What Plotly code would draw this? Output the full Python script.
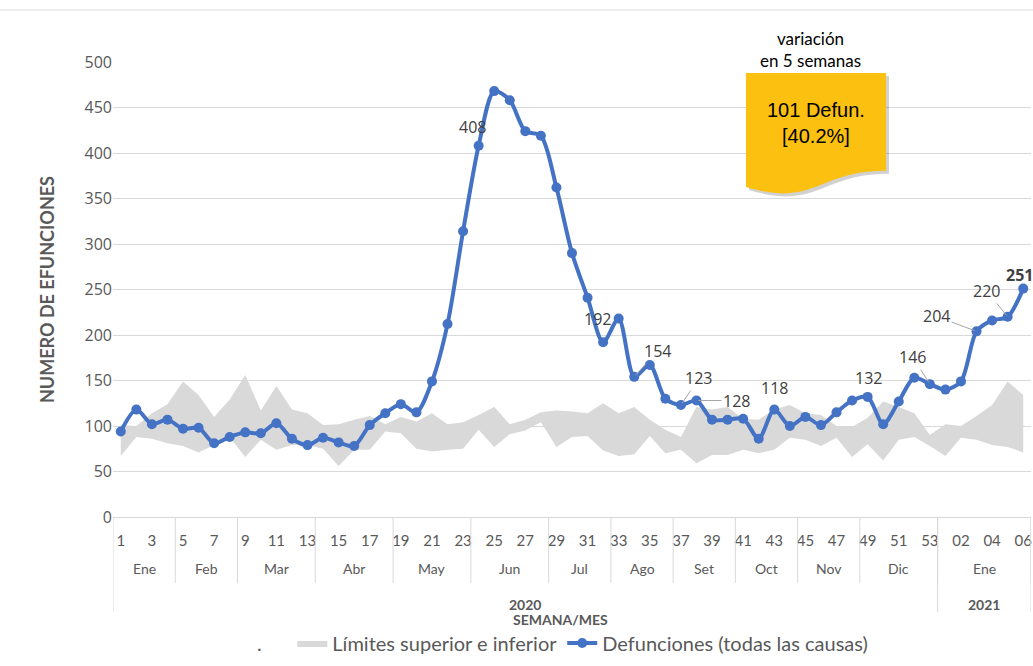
import plotly.graph_objects as go

# semanas 2020 (1..53) y 2021 (01..06)
weeks_2020 = [str(w) for w in range(1, 54)]
weeks_2021 = ["01", "02", "03", "04", "05", "06"]
week_labels = weeks_2020 + weeks_2021

months_2020 = ["Ene", "Feb", "Mar", "Abr", "May", "Jun", "Jul", "Ago", "Set", "Oct", "Nov", "Dic"]
month_weeks_2020 = [4, 4, 5, 5, 5, 5, 4, 4, 4, 4, 4, 5]
months_2021 = ["Ene"]
month_weeks_2021 = [6]
years = ["2020", "2021"]

defunciones = [94, 118, 102, 107, 97, 98, 81, 88, 93, 92,
               103, 86, 79, 87, 82, 78, 101, 114, 124, 115,
               149, 212, 314, 408, 468, 458, 424, 419, 362, 290,
               241, 192, 218, 154, 167, 130, 123, 128, 107, 107,
               108, 86, 118, 100, 110, 101, 115, 128, 132, 102,
               127, 153, 146,
               140, 149, 204, 216, 220, 251]

limite_sup = [101, 100, 114, 124, 149, 134, 110, 129, 156, 117,
              144, 118, 114, 101, 102, 107, 111, 102, 110, 105,
              114, 102, 104, 112, 121, 102, 107, 115, 117, 116,
              114, 125, 114, 121, 107, 96, 88, 121, 118, 121,
              108, 107, 118, 123, 114, 112, 100, 99, 109, 127,
              121, 114, 90,
              102, 100, 111, 123, 149, 134]

limite_inf = [67, 88, 86, 81, 78, 71, 79, 88, 66, 85,
              74, 79, 79, 75, 56, 74, 74, 94, 92, 75,
              72, 74, 75, 96, 77, 91, 95, 104, 77, 88,
              89, 73, 67, 69, 89, 70, 74, 59, 68, 68,
              74, 70, 74, 87, 85, 78, 87, 66, 80, 62,
              85, 88, 78,
              67, 87, 85, 79, 77, 71]

x = list(range(len(week_labels)))

GREY_TXT = "#595959"
GRID = "#D9D9D9"
BLUE = "#4472C4"

# plot area in pixels (for paper conversions of decorations)
L, R, T, B = 113, 1031, 62, 517


def px(xp):
    return (xp - L) / (R - L)


def py(yp):
    return (B - yp) / (B - T)


fig = go.Figure()

fig.add_trace(go.Scatter(
    x=[x[0]], y=[0], mode="markers", name=".\u00a0\u00a0\u00a0\u00a0\u00a0",
    marker=dict(color="rgba(0,0,0,0)", size=1), hoverinfo="skip"))

fig.add_trace(go.Scatter(
    x=x, y=limite_inf, mode="lines", line=dict(width=0, color=GRID),
    showlegend=False, hoverinfo="skip"))
fig.add_trace(go.Scatter(
    x=x, y=limite_sup, mode="lines", line=dict(width=0, color=GRID),
    fill="tonexty", fillcolor=GRID, name="Límites superior e inferior"))

fig.add_trace(go.Scatter(
    x=x, y=defunciones, mode="lines+markers",
    line=dict(color=BLUE, width=4, shape="spline", smoothing=0.8),
    marker=dict(color=BLUE, size=10),
    name="Defunciones (todas las causas)"))

# data labels: (index, dx, dy, leader, bold)
labels = [(23, -6, -19, False, False), (31, -6, -23, False, False),
          (33, 23, -26, True, False), (36, 18, -27, True, False),
          (37, 40, 0, True, False), (42, 0, -22, False, False),
          (48, 1, -19, False, False), (52, -17, -27, True, False),
          (55, -40, -15, True, False), (57, -21, -26, True, False),
          (58, -4, -14, False, True)]
annotations = []
for i, dx, dy, leader, bold in labels:
    txt = str(defunciones[i])
    if bold:
        txt = "<b>" + txt + "</b>"
    a = dict(x=x[i], y=defunciones[i], xref="x", yref="y", text=txt,
             font=dict(family="Open Sans", size=16, color="#404040"))
    if leader:
        a.update(showarrow=True, arrowhead=0, arrowwidth=1, arrowcolor="#A6A6A6",
                 ax=dx, ay=dy, standoff=2)
    else:
        a.update(showarrow=False, xshift=dx, yshift=-dy)
    annotations.append(a)


def note(xv, yv, text, size, color=GREY_TXT, family="Lato", xref="paper", **kw):
    d = dict(x=xv, y=yv, xref=xref, yref="paper", text=text, showarrow=False,
             xanchor="center", yanchor="middle",
             font=dict(family=family, size=size, color=color))
    d.update(kw)
    return d


# month and year labels under the axis, boundaries as lines
shapes = []
pos = -0.5
for names, counts in [(months_2020, month_weeks_2020), (months_2021, month_weeks_2021)]:
    for name, n in zip(names, counts):
        annotations.append(note(pos + n / 2, py(568), name, 14, xref="x"))
        pos += n
        shapes.append(dict(type="line", xref="x", yref="paper", x0=pos, x1=pos,
                           y0=0, y1=py(583), line=dict(color=GRID, width=1)))
shapes.append(dict(type="line", xref="x", yref="paper", x0=-0.5, x1=-0.5,
                   y0=0, y1=py(612), line=dict(color=GRID, width=1)))
n2020 = sum(month_weeks_2020)
n2021 = sum(month_weeks_2021)
for xb in [n2020 - 0.5, n2020 + n2021 - 0.5]:
    shapes.append(dict(type="line", xref="x", yref="paper", x0=xb, x1=xb,
                       y0=0, y1=py(612), line=dict(color=GRID, width=1)))
for yr, start, n in [(years[0], -0.5, n2020), (years[1], n2020 - 0.5, n2021)]:
    annotations.append(note(start + n / 2, py(604), "<b>" + yr + "</b>", 14, xref="x"))

annotations.append(note(px(560), py(619), "<b>SEMANA/MES</b>", 14))
annotations.append(note(px(47), py(290), "<b>NUMERO DE EFUNCIONES</b>", 18, textangle=-90))

# callout (document shape)
xl, xr, yt, h = 746, 886, 73, 122
xm = (xl + xr) / 2
yrb, ylb, yc = yt + 0.802 * h, yt + 0.934 * h, yt + 1.107 * h


def doc_path(ox=0, oy=0):
    return (f"M {px(xl+ox)},{py(yt+oy)} L {px(xr+ox)},{py(yt+oy)} L {px(xr+ox)},{py(yrb+oy)} "
            f"C {px(xm+ox)},{py(yrb+oy)} {px(xm+ox)},{py(yc+oy)} {px(xl+ox)},{py(ylb+oy)} Z")


shapes.append(dict(type="path", xref="paper", yref="paper", path=doc_path(3, 3),
                   fillcolor="rgba(0,0,0,0.18)", line=dict(width=0)))
shapes.append(dict(type="path", xref="paper", yref="paper", path=doc_path(),
                   fillcolor="#FCC010", line=dict(width=0)))
shapes.append(dict(type="line", xref="paper", yref="paper", x0=px(0), x1=px(1033),
                   y0=py(10), y1=py(10), line=dict(color=GRID, width=1)))

annotations.append(note(px(816), py(123), "101 Defun.<br>[40.2%]", 20,
                        color="#000000", family="Liberation Sans"))
annotations.append(note(px(810), py(49), "variación<br>en 5 semanas", 17,
                        color="#000000"))

fig.update_layout(
    width=1033, height=666,
    margin=dict(l=L, r=1033 - R, t=T, b=666 - B),
    paper_bgcolor="white", plot_bgcolor="white",
    xaxis=dict(range=[-0.5, len(x) - 0.5], tickvals=x[::2], ticktext=week_labels[::2],
               showgrid=False, zeroline=False, showline=True, linecolor=GRID,
               ticks="", ticklabelstandoff=10,
               tickfont=dict(family="Lato", size=15, color=GREY_TXT)),
    yaxis=dict(range=[0, 500], dtick=50, gridcolor=GRID, zeroline=False,
               tickfont=dict(family="Open Sans", size=16, color=GREY_TXT)),
    legend=dict(orientation="h", x=px(545), xanchor="center", y=py(643), yanchor="middle",
                font=dict(family="Lato", size=20, color=GREY_TXT),
                traceorder="normal"),
    annotations=annotations, shapes=shapes,
)

fig.write_html("out.html", config={"displayModeBar": False},
               post_script="document.body.style.margin='0';")
